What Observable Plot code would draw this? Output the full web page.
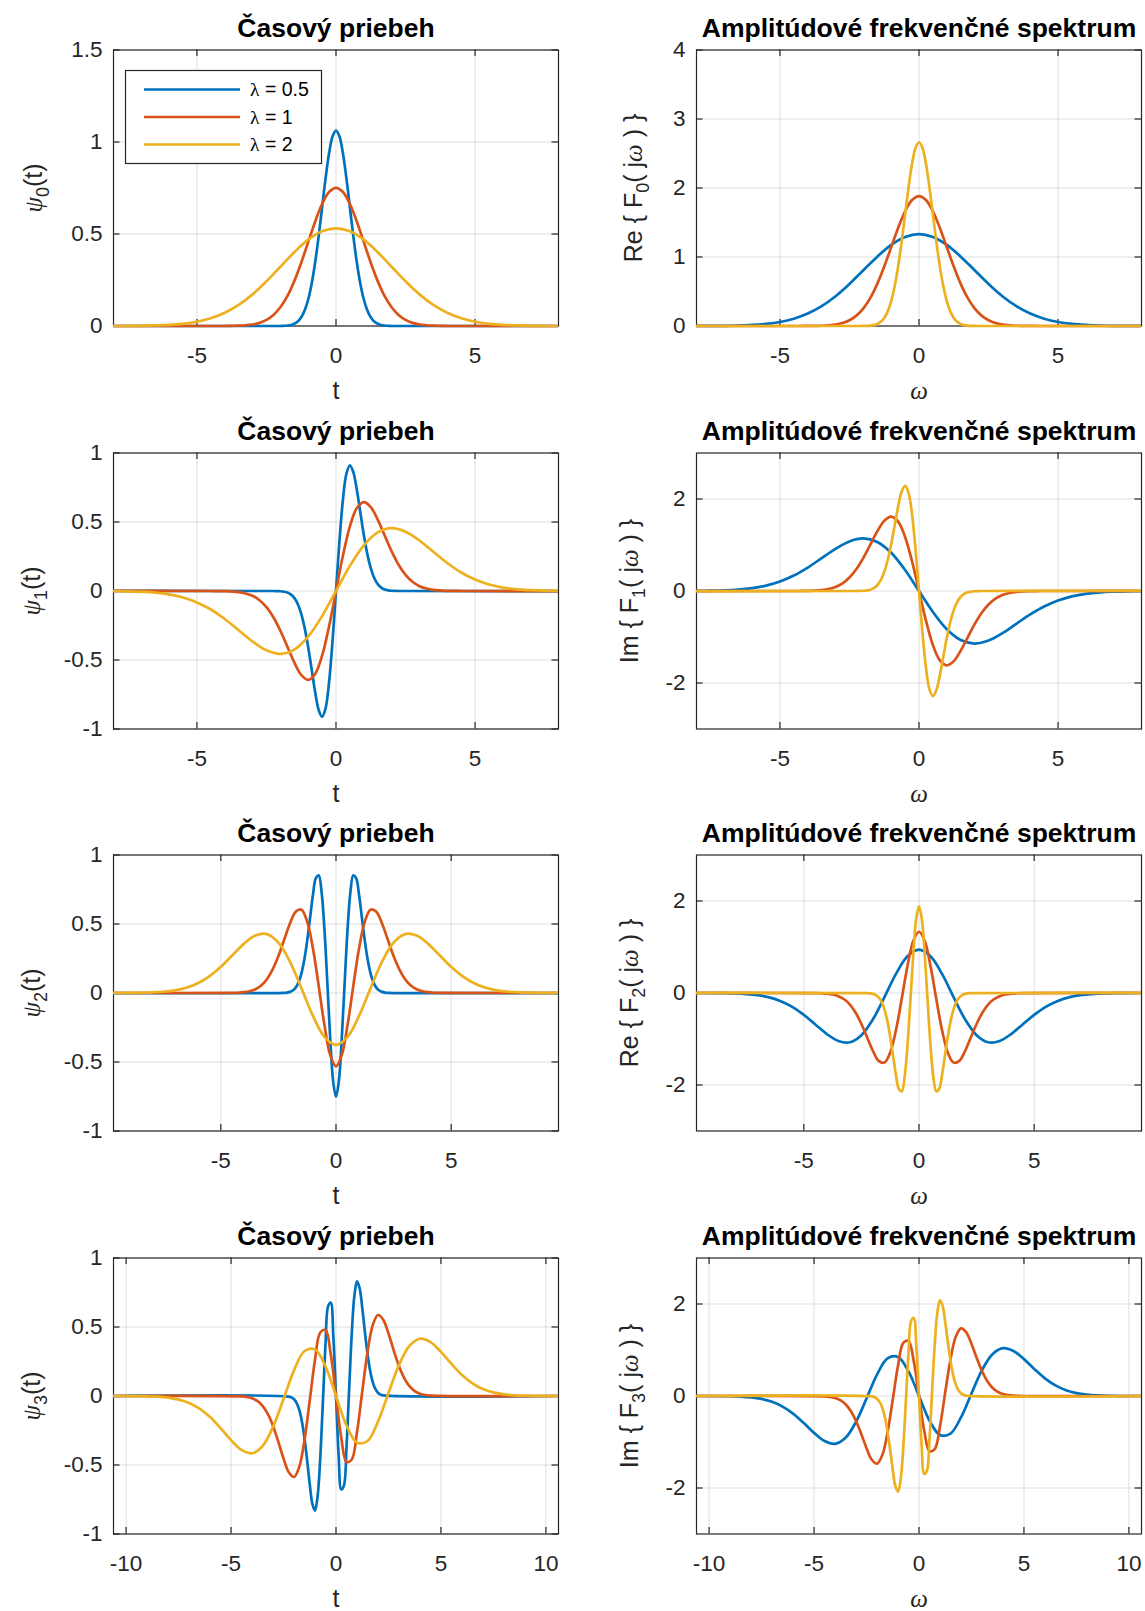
<!DOCTYPE html>
<html><head><meta charset="utf-8">
<script src="https://cdn.jsdelivr.net/npm/d3@7"></script>
<script src="https://cdn.jsdelivr.net/npm/@observablehq/plot@0.6"></script>
<style>
body{margin:0;background:#fff;}
#fig{position:relative;width:1145px;height:1611px;background:#fff;overflow:hidden;}
#fig svg{position:absolute;overflow:visible;}
</style></head><body><div id="fig"></div>
<script>
// ---------------- DATA ----------------
const seriesNames = ["λ = 0.5", "λ = 1", "λ = 2"];
const seriesColors = ["#0072BD", "#D95319", "#EDB120"];

// sample positions (t or ω)
const gridHalf = [-10.6, -2.25, -2.125, -2, -1.875, -1.75, -1.625, -1.5, -1.375, -1.25, -1.125, -1, -0.875, -0.75, -0.625, -0.5, -0.375, -0.25, -0.125, 0, 0.125, 0.25, 0.375, 0.5, 0.625, 0.75, 0.875, 1, 1.125, 1.25, 1.375, 1.5, 1.625, 1.75, 1.875, 2, 2.125, 2.25, 10.6];
const gridOne = [-10.6, -4.5, -4.25, -4, -3.75, -3.5, -3.25, -3, -2.75, -2.5, -2.25, -2, -1.75, -1.5, -1.25, -1, -0.75, -0.5, -0.25, 0, 0.25, 0.5, 0.75, 1, 1.25, 1.5, 1.75, 2, 2.25, 2.5, 2.75, 3, 3.25, 3.5, 3.75, 4, 4.25, 4.5, 10.6];
const gridTwo = [-10.6, -9, -8.5, -8, -7.5, -7, -6.5, -6, -5.5, -5, -4.5, -4, -3.5, -3, -2.5, -2, -1.5, -1, -0.5, 0, 0.5, 1, 1.5, 2, 2.5, 3, 3.5, 4, 4.5, 5, 5.5, 6, 6.5, 7, 7.5, 8, 8.5, 9, 10.6];

// psi_0(t)
const psi0Blue = [0, 0, 0, 0, 0.001, 0.002, 0.005, 0.012, 0.024, 0.047, 0.085, 0.144, 0.23, 0.345, 0.486, 0.644, 0.802, 0.937, 1.03, 1.062, 1.03, 0.937, 0.802, 0.644, 0.486, 0.345, 0.23, 0.144, 0.085, 0.047, 0.024, 0.012, 0.005, 0.002, 0.001, 0, 0, 0, 0];
const psi0Red = [0, 0, 0, 0, 0.001, 0.002, 0.004, 0.008, 0.017, 0.033, 0.06, 0.102, 0.162, 0.244, 0.344, 0.456, 0.567, 0.663, 0.728, 0.751, 0.728, 0.663, 0.567, 0.456, 0.344, 0.244, 0.162, 0.102, 0.06, 0.033, 0.017, 0.008, 0.004, 0.002, 0.001, 0, 0, 0, 0];
const psi0Yellow = [0, 0, 0, 0, 0, 0.001, 0.003, 0.006, 0.012, 0.023, 0.042, 0.072, 0.115, 0.172, 0.243, 0.322, 0.401, 0.469, 0.515, 0.531, 0.515, 0.469, 0.401, 0.322, 0.243, 0.172, 0.115, 0.072, 0.042, 0.023, 0.012, 0.006, 0.003, 0.001, 0, 0, 0, 0, 0];
// Re{F_0(jω)}
const spec0Blue = [0, 0, 0, 0.001, 0.001, 0.003, 0.007, 0.015, 0.03, 0.058, 0.106, 0.18, 0.288, 0.432, 0.61, 0.808, 1.005, 1.175, 1.29, 1.331, 1.29, 1.175, 1.005, 0.808, 0.61, 0.432, 0.288, 0.18, 0.106, 0.058, 0.03, 0.015, 0.007, 0.003, 0.001, 0.001, 0, 0, 0];
const spec0Red = [0, 0, 0, 0.001, 0.002, 0.004, 0.01, 0.021, 0.043, 0.083, 0.15, 0.255, 0.407, 0.611, 0.862, 1.142, 1.421, 1.662, 1.825, 1.883, 1.825, 1.662, 1.421, 1.142, 0.862, 0.611, 0.407, 0.255, 0.15, 0.083, 0.043, 0.021, 0.01, 0.004, 0.002, 0.001, 0, 0, 0];
const spec0Yellow = [0, 0, 0, 0.001, 0.002, 0.006, 0.013, 0.029, 0.061, 0.117, 0.212, 0.361, 0.576, 0.864, 1.219, 1.615, 2.01, 2.35, 2.581, 2.663, 2.581, 2.35, 2.01, 1.615, 1.219, 0.864, 0.576, 0.361, 0.212, 0.117, 0.061, 0.029, 0.013, 0.006, 0.002, 0.001, 0, 0, 0];

// psi_1(t)
const psi1Blue = [0, 0, -0.001, -0.002, -0.005, -0.011, -0.025, -0.05, -0.094, -0.165, -0.269, -0.407, -0.569, -0.732, -0.86, -0.911, -0.85, -0.663, -0.364, 0, 0.364, 0.663, 0.85, 0.911, 0.86, 0.732, 0.569, 0.407, 0.269, 0.165, 0.094, 0.05, 0.025, 0.011, 0.005, 0.002, 0.001, 0, 0];
const psi1Red = [0, 0, -0.001, -0.001, -0.004, -0.008, -0.018, -0.035, -0.067, -0.117, -0.19, -0.288, -0.402, -0.517, -0.608, -0.644, -0.601, -0.469, -0.257, 0, 0.257, 0.469, 0.601, 0.644, 0.608, 0.517, 0.402, 0.288, 0.19, 0.117, 0.067, 0.035, 0.018, 0.008, 0.004, 0.001, 0.001, 0, 0];
const psi1Yellow = [0, 0, 0, -0.001, -0.002, -0.006, -0.012, -0.025, -0.047, -0.083, -0.134, -0.203, -0.284, -0.366, -0.43, -0.456, -0.425, -0.331, -0.182, 0, 0.182, 0.331, 0.425, 0.456, 0.43, 0.366, 0.284, 0.203, 0.134, 0.083, 0.047, 0.025, 0.012, 0.006, 0.002, 0.001, 0, 0, 0];
// Im{F_1(jω)}
const spec1Blue = [0, 0, 0.001, 0.002, 0.006, 0.014, 0.031, 0.063, 0.118, 0.207, 0.337, 0.51, 0.713, 0.917, 1.078, 1.142, 1.066, 0.831, 0.456, 0, -0.456, -0.831, -1.066, -1.142, -1.078, -0.917, -0.713, -0.51, -0.337, -0.207, -0.118, -0.063, -0.031, -0.014, -0.006, -0.002, -0.001, 0, 0];
const spec1Red = [0, 0, 0.001, 0.004, 0.009, 0.02, 0.044, 0.089, 0.167, 0.293, 0.477, 0.721, 1.008, 1.297, 1.524, 1.615, 1.507, 1.175, 0.645, 0, -0.645, -1.175, -1.507, -1.615, -1.524, -1.297, -1.008, -0.721, -0.477, -0.293, -0.167, -0.089, -0.044, -0.02, -0.009, -0.004, -0.001, 0, 0];
const spec1Yellow = [0, 0, 0.002, 0.005, 0.012, 0.029, 0.062, 0.125, 0.236, 0.414, 0.674, 1.019, 1.425, 1.834, 2.155, 2.284, 2.132, 1.662, 0.912, 0, -0.912, -1.662, -2.132, -2.284, -2.155, -1.834, -1.425, -1.019, -0.674, -0.414, -0.236, -0.125, -0.062, -0.029, -0.012, -0.005, -0.002, 0, 0];

// psi_2(t)
const psi2Blue = [0, 0.001, 0.003, 0.008, 0.018, 0.039, 0.077, 0.142, 0.242, 0.38, 0.545, 0.712, 0.833, 0.853, 0.731, 0.456, 0.071, -0.331, -0.637, -0.751, -0.637, -0.331, 0.071, 0.456, 0.731, 0.853, 0.833, 0.712, 0.545, 0.38, 0.242, 0.142, 0.077, 0.039, 0.018, 0.008, 0.003, 0.001, 0];
const psi2Red = [0, 0.001, 0.002, 0.006, 0.013, 0.027, 0.054, 0.1, 0.171, 0.268, 0.386, 0.503, 0.589, 0.604, 0.517, 0.322, 0.05, -0.234, -0.45, -0.531, -0.45, -0.234, 0.05, 0.322, 0.517, 0.604, 0.589, 0.503, 0.386, 0.268, 0.171, 0.1, 0.054, 0.027, 0.013, 0.006, 0.002, 0.001, 0];
const psi2Yellow = [0, 0.001, 0.002, 0.004, 0.009, 0.019, 0.038, 0.071, 0.121, 0.19, 0.273, 0.356, 0.416, 0.427, 0.365, 0.228, 0.035, -0.166, -0.318, -0.376, -0.318, -0.166, 0.035, 0.228, 0.365, 0.427, 0.416, 0.356, 0.273, 0.19, 0.121, 0.071, 0.038, 0.019, 0.009, 0.004, 0.002, 0.001, 0];
// Re{F_2(jω)}
const spec2Blue = [0, -0.001, -0.004, -0.01, -0.023, -0.048, -0.096, -0.178, -0.303, -0.476, -0.683, -0.892, -1.043, -1.07, -0.916, -0.571, -0.089, 0.415, 0.798, 0.941, 0.798, 0.415, -0.089, -0.571, -0.916, -1.07, -1.043, -0.892, -0.683, -0.476, -0.303, -0.178, -0.096, -0.048, -0.023, -0.01, -0.004, -0.001, 0];
const spec2Red = [0, -0.002, -0.006, -0.014, -0.032, -0.068, -0.136, -0.251, -0.429, -0.673, -0.967, -1.261, -1.476, -1.513, -1.295, -0.807, -0.126, 0.587, 1.129, 1.331, 1.129, 0.587, -0.126, -0.807, -1.295, -1.513, -1.476, -1.261, -0.967, -0.673, -0.429, -0.251, -0.136, -0.068, -0.032, -0.014, -0.006, -0.002, 0];
const spec2Yellow = [0, -0.003, -0.008, -0.019, -0.045, -0.097, -0.193, -0.356, -0.606, -0.951, -1.367, -1.784, -2.087, -2.139, -1.832, -1.142, -0.178, 0.831, 1.597, 1.883, 1.597, 0.831, -0.178, -1.142, -1.832, -2.139, -2.087, -1.784, -1.367, -0.951, -0.606, -0.356, -0.193, -0.097, -0.045, -0.019, -0.008, -0.003, 0];

// psi_3(t)
const psi3Blue = [0, -0.004, -0.01, -0.024, -0.051, -0.101, -0.184, -0.307, -0.466, -0.64, -0.782, -0.83, -0.725, -0.448, -0.044, 0.372, 0.651, 0.677, 0.427, 0, -0.427, -0.677, -0.651, -0.372, 0.044, 0.448, 0.725, 0.83, 0.782, 0.64, 0.466, 0.307, 0.184, 0.101, 0.051, 0.024, 0.01, 0.004, 0];
const psi3Red = [0, -0.003, -0.007, -0.017, -0.036, -0.071, -0.13, -0.217, -0.33, -0.453, -0.553, -0.587, -0.513, -0.317, -0.031, 0.263, 0.46, 0.478, 0.302, 0, -0.302, -0.478, -0.46, -0.263, 0.031, 0.317, 0.513, 0.587, 0.553, 0.453, 0.33, 0.217, 0.13, 0.071, 0.036, 0.017, 0.007, 0.003, 0];
const psi3Yellow = [0, -0.002, -0.005, -0.012, -0.026, -0.05, -0.092, -0.153, -0.233, -0.32, -0.391, -0.415, -0.363, -0.224, -0.022, 0.186, 0.326, 0.338, 0.214, 0, -0.214, -0.338, -0.326, -0.186, 0.022, 0.224, 0.363, 0.415, 0.391, 0.32, 0.233, 0.153, 0.092, 0.05, 0.026, 0.012, 0.005, 0.002, 0];
// Im{F_3(jω)}
const spec3Blue = [0, -0.005, -0.013, -0.03, -0.064, -0.127, -0.23, -0.384, -0.584, -0.802, -0.98, -1.04, -0.909, -0.561, -0.055, 0.466, 0.816, 0.848, 0.535, 0, -0.535, -0.848, -0.816, -0.466, 0.055, 0.561, 0.909, 1.04, 0.98, 0.802, 0.584, 0.384, 0.23, 0.127, 0.064, 0.03, 0.013, 0.005, 0];
const spec3Red = [0, -0.007, -0.018, -0.042, -0.09, -0.179, -0.326, -0.543, -0.826, -1.134, -1.386, -1.471, -1.286, -0.794, -0.078, 0.659, 1.154, 1.199, 0.757, 0, -0.757, -1.199, -1.154, -0.659, 0.078, 0.794, 1.286, 1.471, 1.386, 1.134, 0.826, 0.543, 0.326, 0.179, 0.09, 0.042, 0.018, 0.007, 0];
const spec3Yellow = [0, -0.01, -0.026, -0.06, -0.128, -0.253, -0.46, -0.769, -1.168, -1.604, -1.961, -2.081, -1.818, -1.123, -0.11, 0.933, 1.632, 1.696, 1.071, 0, -1.071, -1.696, -1.632, -0.933, 0.11, 1.123, 1.818, 2.081, 1.961, 1.604, 1.168, 0.769, 0.46, 0.253, 0.128, 0.06, 0.026, 0.01, 0];

// axis limits and ticks
const xLimits = [8, 8, 9.66, 10.6];
const xTicksRows = [[-5, 0, 5], [-5, 0, 5], [-5, 0, 5], [-10, -5, 0, 5, 10]];
const yDomainTime = [[0, 1.5], [-1, 1], [-1, 1], [-1, 1]];
const yTicksTime = [[0, 0.5, 1, 1.5], [-1, -0.5, 0, 0.5, 1], [-1, -0.5, 0, 0.5, 1], [-1, -0.5, 0, 0.5, 1]];
const yDomainSpec = [[0, 4], [-3, 3], [-3, 3], [-3, 3]];
const yTicksSpec = [[0, 1, 2, 3, 4], [-2, 0, 2], [-2, 0, 2], [-2, 0, 2]];

// texts
const titleTime = "Časový priebeh";
const titleSpec = "Amplitúdové frekvenčné spektrum";
const xLabelTime = [["t", ""]];
const xLabelSpec = [["ω", "greek"]];
const yLabelsTime = [
  [["ψ", "greek"], ["0", "sub"], ["(t)", ""]],
  [["ψ", "greek"], ["1", "sub"], ["(t)", ""]],
  [["ψ", "greek"], ["2", "sub"], ["(t)", ""]],
  [["ψ", "greek"], ["3", "sub"], ["(t)", ""]]
];
const yLabelsSpec = [
  [["Re { F", ""], ["0", "sub"], ["( j", ""], ["ω", "greek"], [" ) }", ""]],
  [["Im { F", ""], ["1", "sub"], ["( j", ""], ["ω", "greek"], [" ) }", ""]],
  [["Re { F", ""], ["2", "sub"], ["( j", ""], ["ω", "greek"], [" ) }", ""]],
  [["Im { F", ""], ["3", "sub"], ["( j", ""], ["ω", "greek"], [" ) }", ""]]
];

const timeSeries = [[psi0Blue, psi0Red, psi0Yellow], [psi1Blue, psi1Red, psi1Yellow], [psi2Blue, psi2Red, psi2Yellow], [psi3Blue, psi3Red, psi3Yellow]];
const specSeries = [[spec0Blue, spec0Red, spec0Yellow], [spec1Blue, spec1Red, spec1Yellow], [spec2Blue, spec2Red, spec2Yellow], [spec3Blue, spec3Red, spec3Yellow]];
const timeGrids = [gridHalf, gridOne, gridTwo];
const specGrids = [gridTwo, gridOne, gridHalf];

// ---------------- LAYOUT / STYLE ----------------
const FONT = "'Liberation Sans', Arial, Helvetica, sans-serif";
const SERIF = "'Liberation Serif', 'DejaVu Serif', serif";
const INK = "#262626";
const COLS = {
  left: {x: 0, w: 575, ml: 113, mr: 17},
  right: {x: 575, w: 570, ml: 121, mr: 4}
};
const ROW_STEP = 402.5, SVG_H = 402, MT = 49.5, INNER_H = 276, MB = SVG_H - MT - INNER_H;
const TICK_FS = 22.5, LABEL_FS = 25, TITLE_FS = 26.5, LEGEND_FS = 19.5;
const TICK_LEN = 6.5, LINE_W = 2.7;
const XLAB_KEY = "@@XLABEL@@", YLAB_KEY = "@@YLABEL@@";

function richText(sel, pieces, size) {
  sel.each(function () {
    const t = d3.select(this);
    t.text(null).style("white-space", "pre");
    let shift = 0;
    for (const [s, kind] of pieces) {
      const ts = t.append("tspan").text(s);
      if (kind === "sub") {
        ts.attr("font-size", size * 0.72).attr("dy", size * 0.28 - shift);
        shift = size * 0.28;
      } else {
        if (shift) { ts.attr("dy", -shift); shift = 0; }
        if (kind === "greek") ts.attr("font-family", SERIF).attr("font-style", "italic");
      }
    }
  });
}

function makePanel({row, col, xMax, yDomain, yTicks, xTicks, title, yLabel, xLabel, ys, grids, yLabDx}) {
  const c = COLS[col];
  const innerW = c.w - c.ml - c.mr;
  const marks = [];
  // grid
  marks.push(Plot.ruleX(xTicks, {x: d => d, stroke: INK, strokeOpacity: 0.15, strokeWidth: 1}));
  marks.push(Plot.ruleY(yTicks, {y: d => d, stroke: INK, strokeOpacity: 0.15, strokeWidth: 1}));
  // frame
  marks.push(Plot.frame({stroke: INK, strokeWidth: 1.2}));
  // inward ticks on all sides
  marks.push(Plot.ruleX(xTicks, {x: d => d, stroke: INK, strokeWidth: 1.2, insetTop: INNER_H - TICK_LEN}));
  marks.push(Plot.ruleX(xTicks, {x: d => d, stroke: INK, strokeWidth: 1.2, insetBottom: INNER_H - TICK_LEN}));
  marks.push(Plot.ruleY(yTicks, {y: d => d, stroke: INK, strokeWidth: 1.2, insetRight: innerW - TICK_LEN}));
  marks.push(Plot.ruleY(yTicks, {y: d => d, stroke: INK, strokeWidth: 1.2, insetLeft: innerW - TICK_LEN}));
  // axes tick labels
  marks.push(Plot.axisX({ticks: xTicks, anchor: "bottom", tickSize: 0, tickPadding: 21, fontSize: TICK_FS, tickFormat: d => String(d), label: null, fill: INK}));
  marks.push(Plot.axisY({ticks: yTicks, anchor: "left", tickSize: 0, tickPadding: 11, fontSize: TICK_FS, tickFormat: d => String(d), label: null, fill: INK}));
  // curves
  ys.forEach((vals, i) => {
    const g = grids[i];
    if (g.length !== vals.length) console.error("length mismatch", row, col, i, g.length, vals.length);
    const data = vals.map((v, k) => ({x: g[k], y: v}));
    marks.push(Plot.line(data, {x: "x", y: "y", stroke: seriesColors[i], strokeWidth: LINE_W, curve: "catmull-rom", clip: true, strokeLinejoin: "round"}));
  });
  // title
  marks.push(Plot.text([title], {text: d => d, frameAnchor: "top", lineAnchor: "bottom", dy: -12.8, fontSize: TITLE_FS, fontWeight: "bold", fill: "#000"}));
  // x label (placeholder replaced with rich text below)
  marks.push(Plot.text([XLAB_KEY], {text: d => d, frameAnchor: "bottom", lineAnchor: "bottom", dy: 73, fontSize: LABEL_FS, fill: INK}));
  // y label
  marks.push(Plot.text([YLAB_KEY], {text: d => d, frameAnchor: "left", lineAnchor: "middle", textAnchor: "middle", rotate: -90, dx: yLabDx, fontSize: LABEL_FS, fill: INK}));

  const svg = Plot.plot({
    width: c.w, height: SVG_H,
    marginLeft: c.ml, marginRight: c.mr, marginTop: MT, marginBottom: MB,
    x: {domain: [-xMax, xMax]},
    y: {domain: yDomain},
    style: {fontFamily: FONT, color: INK, background: "transparent", overflow: "visible"},
    marks
  });
  svg.style.left = c.x + "px";
  svg.style.top = (row * ROW_STEP) + "px";
  const s = d3.select(svg);
  richText(s.selectAll("text").filter(function () { return this.textContent === XLAB_KEY; }), xLabel, LABEL_FS);
  richText(s.selectAll("text").filter(function () { return this.textContent === YLAB_KEY; }), yLabel, LABEL_FS);
  // let curve strokes keep their width at the top/bottom edges (clip horizontally only)
  s.selectAll("clipPath rect").each(function () {
    const r = d3.select(this);
    const y = +r.attr("y"), h = +r.attr("height");
    r.attr("y", y - 4).attr("height", h + 8);
  });
  document.getElementById("fig").appendChild(svg);
  return svg;
}

const svgs = [];
for (let r = 0; r < 4; r++) {
  svgs.push(makePanel({row: r, col: "left", xMax: xLimits[r], yDomain: yDomainTime[r], yTicks: yTicksTime[r], xTicks: xTicksRows[r],
    title: titleTime, yLabel: yLabelsTime[r], xLabel: xLabelTime, ys: timeSeries[r], grids: timeGrids, yLabDx: r === 0 ? -80 : -82}));
  svgs.push(makePanel({row: r, col: "right", xMax: xLimits[r], yDomain: yDomainSpec[r], yTicks: yTicksSpec[r], xTicks: xTicksRows[r],
    title: titleSpec, yLabel: yLabelsSpec[r], xLabel: xLabelSpec, ys: specSeries[r], grids: specGrids, yLabDx: r === 0 ? -63 : -67}));
}

// legend (first panel)
{
  const lg = d3.select(svgs[0]).append("g").attr("font-family", FONT).attr("font-size", LEGEND_FS)
    .attr("fill", "#000").attr("text-anchor", "start");
  lg.append("rect").attr("x", 125.5).attr("y", 70.5).attr("width", 196).attr("height", 93)
    .attr("fill", "#fff").attr("stroke", INK).attr("stroke-width", 1.2);
  seriesNames.forEach((name, i) => {
    const y = 89.5 + i * 27.5;
    lg.append("line").attr("x1", 144).attr("x2", 240).attr("y1", y).attr("y2", y)
      .attr("stroke", seriesColors[i]).attr("stroke-width", LINE_W);
    const t = lg.append("text").attr("x", 250).attr("y", y).attr("dy", "0.35em").style("white-space", "pre");
    t.append("tspan").attr("font-family", SERIF).text(name.slice(0, 1));
    t.append("tspan").text(name.slice(1));
  });
}
</script></body></html>
